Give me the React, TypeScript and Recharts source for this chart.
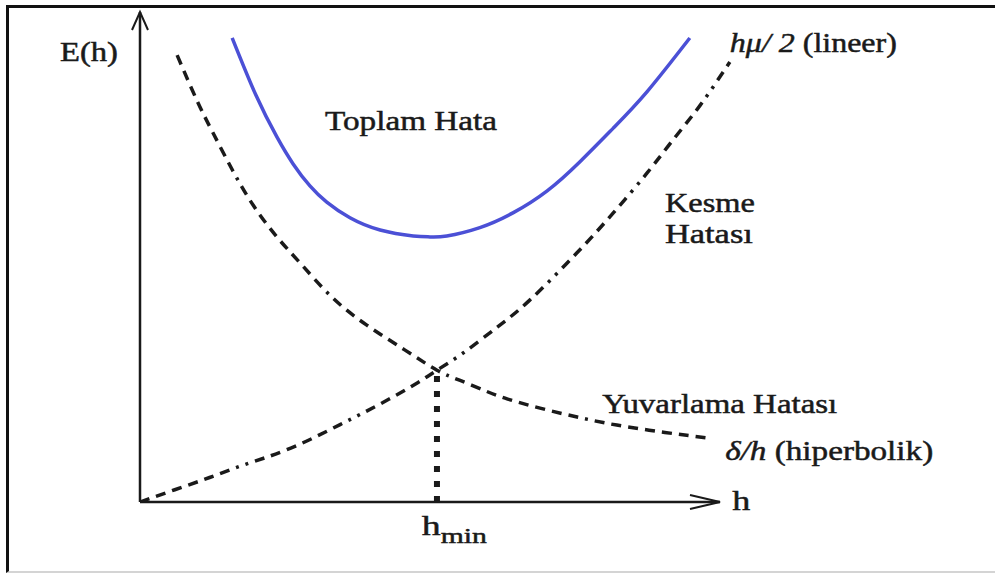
import { LineChart, Line, XAxis, YAxis, ReferenceLine, ReferenceDot } from "recharts";

// Toplam Hata (total error)
const totalH = [1.59, 2.0, 2.36, 2.64, 2.93, 3.22, 3.62, 4.14, 4.71, 5.0, 5.29, 5.86, 6.43, 7.02, 7.59, 8.16, 8.74, 9.48];
const totalE = [9.47, 8.3, 7.45, 6.9, 6.45, 6.12, 5.8, 5.55, 5.43, 5.41, 5.43, 5.6, 5.9, 6.35, 6.95, 7.63, 8.37, 9.47];

// Kesme Hatası (truncation error, hμ/2)
const truncH = [0, 0.6, 1.2, 1.8, 2.6, 3.45, 4.14, 4.78, 5.12, 5.57, 6.16, 6.72, 7.53, 8.16, 8.74, 9.19, 9.66, 10.17];
const truncE = [0, 0.25, 0.5, 0.76, 1.1, 1.58, 2.0, 2.43, 2.69, 3.04, 3.57, 4.12, 5.08, 5.9, 6.71, 7.39, 8.1, 8.98];

// Yuvarlama Hatası (rounding error, δ/h)
const roundH = [0.64, 0.98, 1.26, 1.6, 1.95, 2.36, 2.79, 3.31, 3.91, 4.57, 5.12, 5.52, 5.95, 6.34, 6.95, 7.59, 8.22, 9.05, 9.83];
const roundE = [9.12, 8.2, 7.53, 6.76, 6.06, 5.41, 4.84, 4.18, 3.61, 3.1, 2.69, 2.48, 2.27, 2.1, 1.9, 1.72, 1.57, 1.42, 1.3];

// where the two error curves cross
const hMin = 5.12;
const eMin = 2.69;

const zip = (hs: number[], es: number[]) => hs.map((h, i) => ({ h, e: es[i] }));

const totalData = zip(totalH, totalE);
const truncData = zip(truncH, truncE);
const roundData = zip(roundH, roundE);

const serif = '"Liberation Serif", "Times New Roman", serif';
const ink = "#1a1a1a";
const truncDash = "10 7 10 7 10 7 10 7 10 7 10 7 3 7 3 7";
const roundDash = "10 7 10 7 10 7 10 7 10 7 10 7 10 7 10 7 3 7";

// axis line with an open arrow head at the far end
const arrowShape = (len: number, spread: number) => (p: any) => {
	const { x1, y1, x2, y2 } = p;
	const a = Math.atan2(y2 - y1, x2 - x1);
	const bx = x2 - len * Math.cos(a);
	const by = y2 - len * Math.sin(a);
	const px = -Math.sin(a) * spread;
	const py = Math.cos(a) * spread;
	return (
		<g stroke={ink} strokeWidth={2.5} fill="none">
			<line x1={x1} y1={y1} x2={x2} y2={y2} />
			<path d={`M${bx + px},${by + py} L${x2},${y2} L${bx - px},${by - py}`} strokeWidth={2} />
		</g>
	);
};

const textShape =
	(width: number, content: React.ReactNode, size = 28) =>
	(p: any) => (
		<text
			x={p.cx}
			y={p.cy}
			style={{ fontFamily: serif }}
			fontSize={size}
			fill={ink}
			stroke={ink}
			strokeWidth={0.5}
			textLength={width}
			lengthAdjust="spacingAndGlyphs"
		>
			{content}
		</text>
	);

export default function App() {
	return (
		<div style={{ position: "absolute", left: 0, top: 0, width: 995, height: 574, background: "#fff" }}>
			<div
				style={{
					position: "absolute",
					left: 6,
					top: 5,
					width: 989,
					height: 568,
					boxSizing: "border-box",
					borderTop: "3px solid #111",
					borderLeft: "3px solid #111",
					borderBottom: "2px solid #d4d4d4",
				}}
			/>
			<div style={{ position: "absolute", left: 0, top: 0 }}>
				<LineChart width={995} height={574} margin={{ top: 12, right: 159, bottom: 72, left: 140 }}>
					<XAxis type="number" dataKey="h" domain={[0, 12]} allowDataOverflow hide />
					<YAxis type="number" dataKey="e" domain={[0, 10]} allowDataOverflow hide />

					<ReferenceLine
						segment={[{ x: 0, y: 0 }, { x: 10, y: 0 }]}
						ifOverflow="visible"
						shape={arrowShape(30, 7)}
					/>
					<ReferenceLine
						segment={[{ x: 0, y: 0 }, { x: 0, y: 10 }]}
						ifOverflow="visible"
						shape={arrowShape(18, 8)}
					/>
					<ReferenceLine
						segment={[{ x: hMin, y: 0 }, { x: hMin, y: eMin - 0.12 }]}
						stroke={ink}
						strokeWidth={6}
						strokeDasharray="6 9"
						ifOverflow="visible"
					/>

					<Line
						data={truncData}
						dataKey="e"
						type="natural"
						stroke={ink}
						strokeWidth={3.5}
						strokeDasharray={truncDash}
						dot={false}
						isAnimationActive={false}
					/>
					<Line
						data={roundData}
						dataKey="e"
						type="natural"
						stroke={ink}
						strokeWidth={3.5}
						strokeDasharray={roundDash}
						dot={false}
						isAnimationActive={false}
					/>
					<Line
						data={totalData}
						dataKey="e"
						type="natural"
						stroke="#4b50d6"
						strokeWidth={3.5}
						dot={false}
						isAnimationActive={false}
					/>

					<ReferenceDot x={-1.38} y={9.0} ifOverflow="visible" shape={textShape(58, "E(h)")} />
					<ReferenceDot x={3.19} y={7.59} ifOverflow="visible" shape={textShape(172, "Toplam Hata")} />
					<ReferenceDot
						x={10.17}
						y={9.18}
						ifOverflow="visible"
						shape={textShape(
							167,
							<>
								<tspan fontStyle="italic">hμ/ 2</tspan>
								<tspan> (lineer)</tspan>
							</>,
						)}
					/>
					<ReferenceDot x={9.05} y={5.92} ifOverflow="visible" shape={textShape(90, "Kesme")} />
					<ReferenceDot x={9.05} y={5.29} ifOverflow="visible" shape={textShape(88, "Hatası")} />
					<ReferenceDot x={7.97} y={1.82} ifOverflow="visible" shape={textShape(235, "Yuvarlama Hatası")} />
					<ReferenceDot
						x={10.09}
						y={0.86}
						ifOverflow="visible"
						shape={textShape(
							208,
							<>
								<tspan fontStyle="italic">δ/h</tspan>
								<tspan> (hiperbolik)</tspan>
							</>,
						)}
					/>
					<ReferenceDot x={10.21} y={-0.16} ifOverflow="visible" shape={textShape(18, "h")} />
					<ReferenceDot
						x={4.86}
						y={-0.67}
						ifOverflow="visible"
						shape={textShape(
							65,
							<>
								<tspan>h</tspan>
								<tspan dy={8} fontSize={22}>
									min
								</tspan>
							</>,
						)}
					/>
				</LineChart>
			</div>
		</div>
	);
}
